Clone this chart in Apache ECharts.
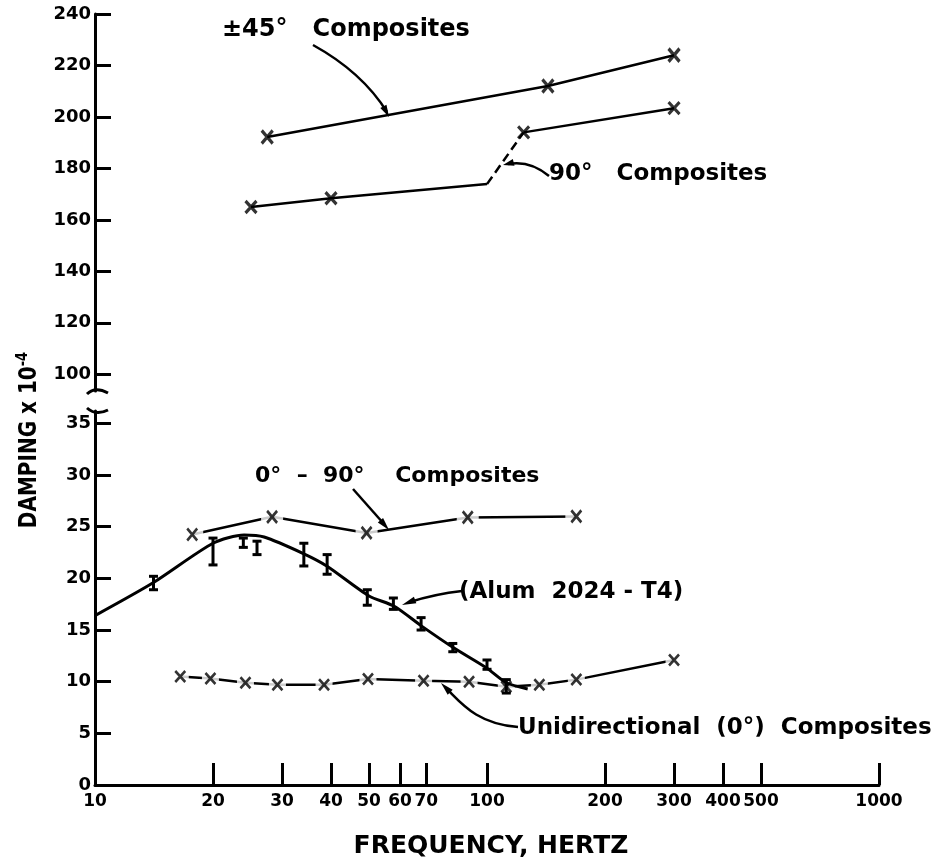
<!DOCTYPE html>
<html>
<head>
<meta charset="utf-8">
<script src="https://cdn.jsdelivr.net/npm/echarts@6/dist/echarts.min.js"></script>
<style>
  html, body { margin: 0; background: #fff; }
  #chart { width: 951px; height: 860px; }
</style>
</head>
<body>
<div id="chart"></div>
<script>
// axis ticks
const freqTicks = [10, 20, 30, 40, 50, 60, 70, 100, 200, 300, 400, 500, 1000];
const lowTicks = [0, 5, 10, 15, 20, 25, 30, 35];
const highTicks = [100, 120, 140, 160, 180, 200, 220, 240];

// +-45 deg composites
const pm45Freq = [27.5, 143, 300];
const pm45Val = [192.2, 212, 224];

// 90 deg composites (solid, dashed jump near 100 Hz, solid)
const c90Freq = [25, 40, 124, 300];
const c90Val = [165, 168.4, 194, 203.4];
const c90BreakFreq = [100];
const c90BreakVal = [173.9];

// 0-90 deg composites
const c0090Freq = [17.7, 28.3, 49.3, 89.3, 169];
const c0090Val = [24.25, 25.96, 24.4, 25.9, 26.0];

// unidirectional (0 deg) composites
const uniFreq = [16.5, 19.7, 24.2, 29.2, 38.4, 49.7, 68.9, 90, 112, 136, 169, 300];
const uniVal = [10.5, 10.3, 9.9, 9.7, 9.7, 10.25, 10.1, 10.0, 9.5, 9.7, 10.2, 12.1];

// alum 2024-T4 faired curve
const alumFreq = [10, 14.1, 20, 24, 27, 34, 39, 50, 58, 68, 82, 100, 112, 127];
const alumVal = [16.4, 19.6, 23.4, 24.2, 24.0, 22.4, 21.2, 18.3, 17.3, 15.4, 13.3, 11.3, 9.9, 9.3];

// alum error bars
const barFreq = [14.1, 20, 23.9, 25.9, 34.1, 39.1, 49.5, 57.7, 67.9, 81.8, 100, 112];
const barLow = [18.9, 21.3, 23.0, 22.3, 21.2, 20.4, 17.4, 17.0, 15.0, 12.9, 11.2, 8.9];
const barHigh = [20.2, 23.9, 23.9, 23.6, 23.4, 22.3, 18.9, 18.1, 16.2, 13.7, 12.1, 10.2];

const X_MARK = 'path://M0,0L10,10M10,0L0,10';
const FONT = 'DejaVu Sans';

const pairs = (fs, vs) => fs.map((f, i) => [f, vs[i]]);

const chart = echarts.init(document.getElementById('chart'));

const axisLine = { show: true, lineStyle: { color: '#000', width: 3 } };
const tickLine = { color: '#000', width: 3 };
const lbl = { color: '#000', fontFamily: FONT, fontWeight: 'bold', fontSize: 18 };

function line(grid, data, extra) {
  return Object.assign({
    type: 'line', xAxisIndex: grid, yAxisIndex: grid, data: data,
    symbol: 'none', lineStyle: { color: '#000', width: 2.5 }, z: 2, silent: true
  }, extra || {});
}
function marks(grid, data, size, bw) {
  return {
    type: 'scatter', xAxisIndex: grid, yAxisIndex: grid, data: data,
    symbol: X_MARK, symbolSize: size,
    itemStyle: { color: 'rgba(0,0,0,0)', borderColor: '#000', borderWidth: bw },
    z: 6, silent: true
  };
}
function gaps(data, size) {
  return {
    type: 'scatter', xAxisIndex: 1, yAxisIndex: 1, data: data,
    symbol: 'rect', symbolSize: size, itemStyle: { color: '#fff' }, z: 3, silent: true
  };
}

const c90Pts = pairs(c90Freq, c90Val);
const c90Break = [c90BreakFreq[0], c90BreakVal[0]];
const c0090Pts = pairs(c0090Freq, c0090Val);
const uniPts = pairs(uniFreq, uniVal);

const option = {
  animation: false,
  backgroundColor: '#fff',
  grid: [
    { left: 95, right: 72, top: 14, height: 377 },
    { left: 95, right: 72, top: 411, height: 374 }
  ],
  xAxis: [
    { gridIndex: 0, type: 'log', logBase: 10, min: 10, max: 1000, show: false },
    {
      gridIndex: 1, type: 'log', logBase: 10, min: 10, max: 1000,
      axisLine: axisLine,
      axisTick: { show: true, inside: true, length: 22, lineStyle: tickLine, customValues: freqTicks.slice(1) },
      axisLabel: Object.assign({ customValues: freqTicks, margin: 8, formatter: v => String(Math.round(v)) }, lbl, { fontSize: 17 }),
      splitLine: { show: false }, minorTick: { show: false }
    }
  ],
  yAxis: [
    {
      gridIndex: 0, type: 'value', min: 93.5, max: 240,
      axisLine: axisLine,
      axisTick: { show: true, inside: true, length: 16, lineStyle: tickLine, customValues: highTicks },
      axisLabel: Object.assign({ customValues: highTicks, margin: 4 }, lbl),
      splitLine: { show: false }
    },
    {
      gridIndex: 1, type: 'value', min: 0, max: 36.2,
      axisLine: axisLine,
      axisTick: { show: true, inside: true, length: 16, lineStyle: tickLine, customValues: lowTicks },
      axisLabel: Object.assign({ customValues: lowTicks, margin: 4 }, lbl),
      splitLine: { show: false }
    }
  ],
  series: [
    // upper panel
    line(0, pairs(pm45Freq, pm45Val)),
    line(0, [c90Pts[0], c90Pts[1], c90Break]),
    line(0, [c90Break, c90Pts[2]], { lineStyle: { color: '#000', width: 2.5, type: [9, 5] } }),
    line(0, [c90Pts[2], c90Pts[3]]),
    marks(0, pairs(pm45Freq, pm45Val), [11, 13], 3.4),
    marks(0, c90Pts, [11, 12], 3.2),
    // lower panel
    line(1, c0090Pts),
    line(1, uniPts),
    gaps(c0090Pts, [22, 10]),
    gaps(uniPts, [17, 8]),
    line(1, pairs(alumFreq, alumVal), { smooth: 0.25, lineStyle: { color: '#000', width: 3 }, z: 5 }),
    {
      type: 'custom', xAxisIndex: 1, yAxisIndex: 1, z: 5, silent: true,
      data: barFreq.map((f, i) => [f, barLow[i], barHigh[i]]),
      encode: { x: 0, y: [1, 2] },
      renderItem: function (params, api) {
        const lo = api.coord([api.value(0), api.value(1)]);
        const hi = api.coord([api.value(0), api.value(2)]);
        const w = 4.5;
        const st = { stroke: '#000', lineWidth: 3 };
        return {
          type: 'group',
          children: [
            { type: 'line', shape: { x1: lo[0], y1: lo[1], x2: hi[0], y2: hi[1] }, style: st },
            { type: 'line', shape: { x1: lo[0] - w, y1: lo[1], x2: lo[0] + w, y2: lo[1] }, style: st },
            { type: 'line', shape: { x1: hi[0] - w, y1: hi[1], x2: hi[0] + w, y2: hi[1] }, style: st }
          ]
        };
      }
    },
    marks(1, c0090Pts, [10, 12], 2.8),
    marks(1, uniPts, [10, 11], 2.7)
  ]
};

// annotations: labels, leader lines and the axis break marks
function head(tx, ty, fx, fy, len, half) {
  const a = Math.atan2(ty - fy, tx - fx);
  const bx = tx - len * Math.cos(a), by = ty - len * Math.sin(a);
  const nx = -Math.sin(a) * half, ny = Math.cos(a) * half;
  return { type: 'polygon', shape: { points: [[tx, ty], [bx + nx, by + ny], [bx - nx, by - ny]] }, style: { fill: '#000' } };
}
const stroke = { stroke: '#000', lineWidth: 2.5, fill: null };
function text(x, y, str, size, align) {
  return {
    type: 'text', x: x, y: y,
    style: { text: str, fill: '#000', font: 'bold ' + size + 'px "' + FONT + '"', align: align || 'left', verticalAlign: 'middle' }
  };
}

option.graphic = [
  text(222, 30, '\u00b145\u00b0   Composites', 24),
  { type: 'bezierCurve', shape: { x1: 313, y1: 45, cpx1: 362, cpy1: 72, x2: 387, y2: 112 }, style: stroke },
  head(389, 117, 380, 100, 12, 3.5),

  text(549, 174, '90\u00b0   Composites', 23),
  { type: 'bezierCurve', shape: { x1: 549, y1: 176, cpx1: 530, cpy1: 160, x2: 508, y2: 164 }, style: stroke },
  head(503, 165, 515, 162, 11, 3.5),

  text(255, 476, '0\u00b0  \u2013  90\u00b0    Composites', 22),
  { type: 'line', shape: { x1: 353, y1: 489, x2: 384, y2: 524 }, style: stroke },
  head(389, 530, 375, 514, 13, 3.5),

  text(459, 592, '(Alum  2024 - T4)', 23),
  { type: 'bezierCurve', shape: { x1: 462, y1: 591, cpx1: 435, cpy1: 594, x2: 410, y2: 602 }, style: stroke },
  head(402, 605, 418, 599, 14, 3.5),

  text(518, 728, 'Unidirectional  (0\u00b0)  Composites', 23),
  { type: 'bezierCurve', shape: { x1: 518, y1: 727, cpx1: 478, cpy1: 724, cpx2: 462, cpy2: 704, x2: 448, y2: 690 }, style: stroke },
  head(441, 683, 452, 694, 13, 3.5),

  text(491, 846, 'FREQUENCY, HERTZ', 25, 'center'),
  {
    type: 'text', x: 30, y: 440, rotation: Math.PI / 2, scaleY: 1.2,
    style: {
      text: '{a|DAMPING x 10}{s|-4}', align: 'center', verticalAlign: 'middle',
      rich: {
        a: { fontFamily: FONT, fontWeight: 'bold', fontSize: 20, fill: '#000' },
        s: { fontFamily: FONT, fontWeight: 'bold', fontSize: 13, fill: '#000', padding: [0, 0, 12, 0] }
      }
    }
  },
  // axis break marks
  { type: 'bezierCurve', shape: { x1: 87, y1: 394, cpx1: 95, cpy1: 386, x2: 108, y2: 393 }, style: { stroke: '#000', lineWidth: 3, fill: null } },
  { type: 'bezierCurve', shape: { x1: 87, y1: 408, cpx1: 96, cpy1: 416, x2: 108, y2: 410 }, style: { stroke: '#000', lineWidth: 3, fill: null } }
];

chart.setOption(option);
</script>
</body>
</html>
